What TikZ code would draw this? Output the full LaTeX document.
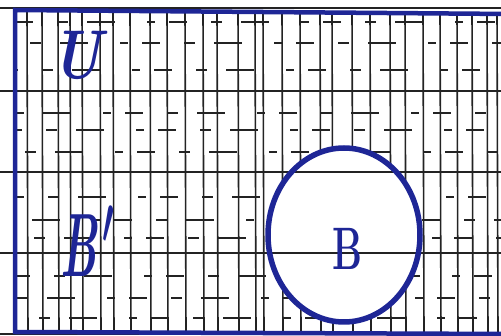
\documentclass[tikz,border=0pt]{standalone}
\usepackage{graphicx}
\usetikzlibrary{shapes.geometric}
\definecolor{ink}{RGB}{30,38,150}
\definecolor{pencil}{RGB}{35,35,35}
\begin{document}
\begin{tikzpicture}[x=1pt,y=-1pt,
  ruled/.style={pencil, line width=1.3pt},
  hatchv/.style={pencil, line width=1.6pt},
  hatchh/.style={pencil, line width=1.3pt},
  border/.style={ink, line width=4.5pt},
  letter/.style={ink, font=\fontsize{60}{60}\selectfont\bfseries\itshape, inner sep=0pt}]
\useasboundingbox (0,0) rectangle (501,336);
\fill[white] (0,0) rectangle (501,336);
% ruled paper lines
\foreach \y in {8,91,172,253,334} \draw[ruled] (0,\y) -- (501,\y);
% hatching inside U
\begin{scope}
  \clip (15,10) -- (501,14) -- (501,332) -- (15,332) -- cycle;
  \foreach \x in {27,42,58,70,82,100,113,130,150,167,185,203,217,238,255,263,282,300,320,332,352,370,390,405,423,440,457,472,487,497}
    \draw[hatchv] (\x,10) -- (\x+1,334);
  \foreach \y/\p in {22/0,43/27,70/15,113/44,130/11,152/32,197/9,220/55,238/23,276/3,298/40,318/18}
    \draw[hatchh, dash pattern=on 18pt off 24pt on 11pt off 19pt on 28pt off 32pt on 8pt off 14pt, dash phase=\p pt] (15,\y) -- (501,\y);
\end{scope}
% set B (unshaded)
\node[ellipse, fill=white, minimum width=152pt, minimum height=174pt, inner sep=0pt] (circfill) at (344,235) {};
\begin{scope}
  \clip (344,235) ellipse [x radius=76, y radius=87];
  \foreach \y in {172,253} \draw[ruled] (250,\y) -- (440,\y);
\end{scope}
\node[ellipse, draw=ink, line width=5.5pt, minimum width=152pt, minimum height=174pt, inner sep=0pt] (circ) at (344,235) {};
% universal set border
\draw[border] (510,14) -- (15,10) -- (15,332) -- (510,334);
% labels
\node[letter, xscale=0.95, yscale=1.15] (U) at (77,55) {U};
\node[letter, xscale=0.75, yscale=1.5, anchor=base west] (Bp) at (60,277) {B\hspace{8pt}\raisebox{22pt}{\scalebox{1.8}{\boldmath$\prime$}}};
\node[letter, xscale=0.75, yscale=1.2, font=\fontsize{50}{50}\selectfont] (B) at (347,249) {\textbf{B}};
\end{tikzpicture}
\end{document}
